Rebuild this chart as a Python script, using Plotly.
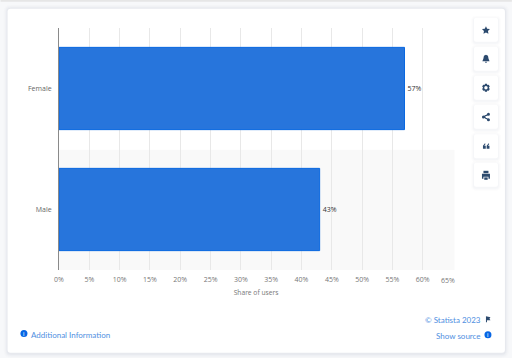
import plotly.graph_objects as go

categories = ["Female", "Male"]
shares = [57, 43]
tick_values = list(range(0, 70, 5))
tick_labels = [f"{v}%" for v in tick_values[:-1]] + [""]
last_tick_label = "65%"
axis_title = "Share of users"

W, H = 512, 358
L, R, T, B = 58.5, 453, 28.2, 270.2
FONT = "Open Sans"
LINK_FONT = "Lato"
NAVY = "#2c4a6e"
LINK = "#4f8fdf"
GREY = "#777777"


def px(x):
    return (x - L) / (R - L)


def py(y):
    return (B - y) / (B - T)


def p(*pts):
    return "M" + " L".join(f"{px(x):.5f},{py(y):.5f}" for x, y in pts) + " Z"


def rounded(x0, y0, x1, y1, r):
    c = lambda x, y: f"{px(x):.5f},{py(y):.5f}"
    return (f"M{c(x0 + r, y0)} L{c(x1 - r, y0)} Q{c(x1, y0)} {c(x1, y0 + r)} L{c(x1, y1 - r)} "
            f"Q{c(x1, y1)} {c(x1 - r, y1)} L{c(x0 + r, y1)} Q{c(x0, y1)} {c(x0, y1 - r)} "
            f"L{c(x0, y0 + r)} Q{c(x0, y0)} {c(x0 + r, y0)} Z")


def rbox(x0, y0, x1, y1, r, fill, layer):
    return dict(type="path", xref="paper", yref="paper", path=rounded(x0, y0, x1, y1, r),
                fillcolor=fill, line=dict(width=0), layer=layer)


def rect(x0, y0, x1, y1, fill, layer="below"):
    return dict(type="rect", xref="paper", yref="paper", x0=px(x0), x1=px(x1), y0=py(y0), y1=py(y1),
                fillcolor=fill, line=dict(width=0), layer=layer)


def P(*pts):
    return dict(type="path", xref="paper", yref="paper", path=p(*pts), fillcolor=NAVY,
                line=dict(width=0), layer="above")


def circle(cx, cy, r, fill=NAVY):
    return dict(type="circle", xref="paper", yref="paper", x0=px(cx - r), x1=px(cx + r), y0=py(cy - r),
                y1=py(cy + r), fillcolor=fill, line=dict(width=0), layer="above")


fig = go.Figure(go.Bar(
    x=shares, y=categories, orientation="h", width=0.68,
    marker=dict(color="#2775dc", line=dict(color="#0a68e0", width=1)),
    text=[f"{v}%" for v in shares], textposition="outside", cliponaxis=False,
    textfont=dict(family=FONT, size=7, color="#333333"),
))

shapes = [rect(0, 0, W, 2, "#e6e6e6")]
for d, a in [(4, 0.012), (3, 0.016), (2, 0.022), (1, 0.03)]:
    shapes.append(rbox(7 - d, 9 - d, 505 + d, 354 + d, 3 + d, f"rgba(60,70,110,{a})", "below"))
shapes.append(rbox(7, 9, 505, 353, 3, "#ffffff", "below"))
shapes.append(rect(L, 150, 454.5, B, "#f9f9f9"))

for y in [18, 47, 76, 105, 134.5, 163]:
    for d, a in [(3, 0.012), (2, 0.016), (1, 0.022)]:
        shapes.append(rbox(474 - d, y - d + 1, 498 + d, y + 24 + d + 1, 2 + d, f"rgba(60,70,110,{a})", "above"))
    shapes.append(rbox(474, y, 498, y + 24, 2, "#ffffff", "above"))

# star
shapes.append(P((486, 26.5), (487.2, 28.9), (490, 29.3), (488, 31.2), (488.5, 34), (486, 32.7), (483.5, 34), (484, 31.2), (482, 29.3), (484.8, 28.9)))
# bell
shapes.append(P((486, 55), (488, 56), (488.6, 59), (489.6, 61.5), (482.4, 61.5), (483.4, 59), (484, 56)))
shapes.append(P((485, 62), (487, 62), (486.6, 63), (485.4, 63)))
# gear
shapes.append(P((485, 84), (487, 84), (487.4, 85.2), (488.8, 85), (489.8, 86.8), (488.9, 88), (489.8, 89.2),
                (488.8, 91), (487.4, 90.8), (487, 92), (485, 92), (484.6, 90.8), (483.2, 91), (482.2, 89.2),
                (483.1, 88), (482.2, 86.8), (483.2, 85), (484.6, 85.2)))
shapes.append(circle(486, 88, 1.7, "#ffffff"))
# share
shapes.append(dict(type="path", xref="paper", yref="paper", path=p((488.5, 114.5), (483.5, 117), (488.5, 120), (483.5, 117)),
                   line=dict(color=NAVY, width=1), layer="above"))
for cx, cy in [(488.5, 114.5), (483.5, 117.2), (488.5, 120)]:
    shapes.append(circle(cx, cy, 1.5))
# quote
for x in (483, 486.7):
    shapes.append(P((x + 2, 143.5), (x + 2.6, 144.2), (x + 1.3, 146), (x + 2.8, 146), (x + 2.8, 149), (x, 149), (x, 146)))
# print
shapes.append(P((482, 174), (490, 174), (490, 179), (488.5, 179), (488.5, 177), (483.5, 177), (483.5, 179), (482, 179)))
shapes.append(P((483.5, 171), (488.5, 171), (488.5, 173.4), (483.5, 173.4)))
shapes.append(P((484.3, 177.6), (487.7, 177.6), (487.7, 180), (484.3, 180)))
# info dots
shapes.append(circle(23.4, 333.8, 3.5, "#0666e5"))
shapes.append(circle(488, 335, 3.5, "#0666e5"))
# flag
shapes.append(P((486, 316.5), (490.5, 317.5), (489.5, 319), (490.5, 320.5), (487, 320.5), (487, 322.5), (486, 322.5)))


def note(text, x, y, color, size, anchor="left"):
    return dict(text=text, xref="paper", yref="paper", x=px(x), y=py(y), showarrow=False, xanchor=anchor,
                yanchor="middle", font=dict(family=LINK_FONT, size=size, color=color))


annotations = [
    dict(text=last_tick_label, xref="paper", yref="paper", x=1, y=py(281), showarrow=False, xanchor="right",
         xshift=3.5, yanchor="middle", font=dict(family=FONT, size=7, color=GREY)),
    note("Additional Information", 28.5, 335, LINK, 8),
    note("© Statista 2023", 483.5, 320.5, LINK, 8, "right"),
    note("Show source", 483.5, 336, LINK, 8, "right"),
    note("i", 23.4, 333.8, "#ffffff", 6, "center"),
    note("i", 488, 335, "#ffffff", 6, "center"),
]

fig.update_layout(
    width=W, height=H, margin=dict(l=L, r=W - R, t=T, b=H - B), autosize=False,
    paper_bgcolor="#f7f8fa", plot_bgcolor="rgba(0,0,0,0)", showlegend=False,
    shapes=shapes, annotations=annotations, font=dict(family=FONT),
    xaxis=dict(range=[0, 65], tickvals=tick_values, ticktext=tick_labels, showgrid=True, gridcolor="#e8e8e8",
               gridwidth=1, zeroline=False, showline=False, ticks="", ticklabelstandoff=4,
               tickfont=dict(family=FONT, size=7, color=GREY),
               title=dict(text=axis_title, standoff=7, font=dict(family=FONT, size=6.7, color=GREY))),
    yaxis=dict(categoryorder="array", categoryarray=categories[::-1], showgrid=False, zeroline=False,
               showline=True, linecolor="#8a8a8a", linewidth=1, ticks="", ticklabelstandoff=5,
               tickfont=dict(family=FONT, size=7, color="#666666")),
    bargap=0.32,
)

fig.write_html("out.html", config=dict(displayModeBar=False),
               post_script="document.body.style.margin='0';document.body.style.overflow='hidden';")
